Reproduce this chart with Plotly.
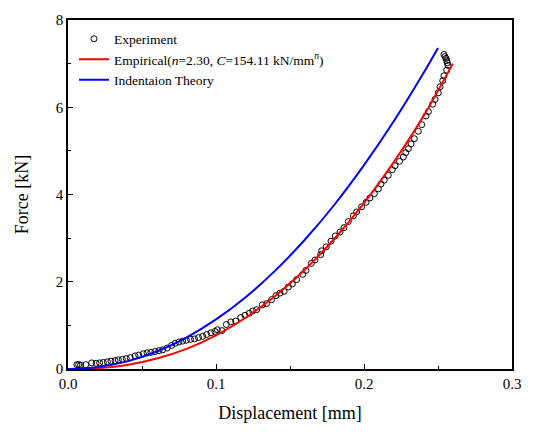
import plotly.graph_objects as go

# Experiment data
exp_disp = [0.0060, 0.0072, 0.0085, 0.0120, 0.0160, 0.0190, 0.0214, 0.0239, 0.0266, 0.0290,
            0.0318, 0.0340, 0.0367, 0.0394, 0.0420, 0.0453, 0.0478, 0.0509, 0.0534, 0.0560,
            0.0588, 0.0615, 0.0640, 0.0670, 0.0700, 0.0725, 0.0750, 0.0775, 0.0800, 0.0828,
            0.0855, 0.0882, 0.0910, 0.0937, 0.0966, 0.0993, 0.1009, 0.1040, 0.1070, 0.1100,
            0.1133, 0.1167, 0.1196, 0.1225, 0.1248, 0.1275, 0.1313, 0.1342, 0.1376, 0.1405,
            0.1432, 0.1460, 0.1489, 0.1516, 0.1545, 0.1586, 0.1608, 0.1644, 0.1669, 0.1707,
            0.1714, 0.1745, 0.1777, 0.1806, 0.1838, 0.1865, 0.1894, 0.1928, 0.1950, 0.1984,
            0.2014, 0.2040, 0.2070, 0.2097, 0.2115, 0.2137, 0.2164, 0.2191, 0.2210, 0.2240,
            0.2266, 0.2282, 0.2300, 0.2318, 0.2340, 0.2367, 0.2390, 0.2419, 0.2435, 0.2464,
            0.2480, 0.2502, 0.2514, 0.2532, 0.2540, 0.2559, 0.2568, 0.2563, 0.2559, 0.2554,
            0.2547, 0.2540]
exp_force = [0.10, 0.10, 0.09, 0.10, 0.14, 0.13, 0.14, 0.15, 0.165, 0.18,
             0.19, 0.21, 0.22, 0.24, 0.26, 0.30, 0.32, 0.35, 0.37, 0.38,
             0.40, 0.42, 0.44, 0.48, 0.54, 0.59, 0.62, 0.64, 0.66, 0.68,
             0.69, 0.72, 0.75, 0.79, 0.83, 0.86, 0.90, 0.88, 1.02, 1.08,
             1.10, 1.18, 1.23, 1.28, 1.33, 1.36, 1.47, 1.50, 1.59, 1.68,
             1.74, 1.78, 1.88, 1.95, 2.05, 2.17, 2.26, 2.42, 2.50, 2.62,
             2.71, 2.80, 2.93, 3.05, 3.14, 3.24, 3.38, 3.51, 3.60, 3.72,
             3.82, 3.92, 4.02, 4.13, 4.24, 4.33, 4.44, 4.57, 4.66, 4.76,
             4.86, 4.96, 5.05, 5.16, 5.28, 5.45, 5.60, 5.80, 5.90, 6.07,
             6.18, 6.33, 6.47, 6.61, 6.72, 6.85, 6.96, 7.02, 7.07, 7.12,
             7.16, 7.21]

# Empirical fit curve
emp_disp = [0.0, 0.02, 0.04, 0.06, 0.08, 0.10, 0.12, 0.14, 0.16, 0.18, 0.20, 0.22, 0.24, 0.26]
emp_force = [0.0, 0.019, 0.094, 0.239, 0.462, 0.772, 1.174, 1.675, 2.277, 2.985, 3.803, 4.737, 5.785, 7.00]

# Indentation theory curve
ind_disp = [0.0, 0.02, 0.04, 0.06, 0.08, 0.10, 0.12, 0.14, 0.16, 0.18, 0.20, 0.22, 0.24, 0.25]
ind_force = [0.0, 0.043, 0.175, 0.400, 0.720, 1.136, 1.647, 2.255, 2.962, 3.765, 4.672, 5.672, 6.774, 7.36]

FONT = "Liberation Serif, Times New Roman, serif"

fig = go.Figure()
fig.add_trace(go.Scatter(
    x=exp_disp, y=exp_force, mode="markers", name="Experiment",
    marker=dict(symbol="circle-open", size=6, color="black", line=dict(width=1, color="black")),
))
fig.add_trace(go.Scatter(
    x=emp_disp, y=emp_force, mode="lines", line_shape="spline",
    name="Empirical(<i>n</i>=2.30, <i>C</i>=154.11 kN/mm<sup><i>n</i></sup>)",
    line=dict(color="#ff0000", width=2),
))
fig.add_trace(go.Scatter(
    x=ind_disp, y=ind_force, mode="lines", line_shape="spline",
    name="Indentaion Theory",
    line=dict(color="#0000ff", width=2),
))

axis_common = dict(
    showline=True, linecolor="black", linewidth=1.5, mirror=True,
    ticks="inside", ticklen=5, tickwidth=1.2, tickcolor="black",
    showgrid=False, zeroline=False,
    tickfont=dict(family=FONT, size=15, color="black"),
)

fig.update_xaxes(
    range=[0, 0.3], tick0=0, dtick=0.1, tickformat=".1f",
    minor=dict(ticks="inside", ticklen=3, dtick=0.05, tickcolor="black", tickwidth=1.2),
    title=dict(text="Displacement [mm]", font=dict(family=FONT, size=18, color="black"), standoff=16),
    **axis_common,
)
fig.update_yaxes(
    range=[0, 8], tick0=0, dtick=2,
    minor=dict(ticks="inside", ticklen=3, dtick=1, tickcolor="black", tickwidth=1.2),
    title=dict(text="Force [kN]", font=dict(family=FONT, size=18, color="black"), standoff=22),
    **axis_common,
)

fig.update_layout(
    width=539, height=432,
    margin=dict(l=68, r=27, t=15, b=62),
    plot_bgcolor="white", paper_bgcolor="white",
    font=dict(family=FONT, color="black"),
    legend=dict(
        x=0.0135, y=0.99, xanchor="left", yanchor="top",
        bgcolor="rgba(0,0,0,0)", borderwidth=0,
        font=dict(family=FONT, size=13.5, color="black"),
        tracegroupgap=0,
    ),
    showlegend=True,
)

fig.write_html("out.html")
